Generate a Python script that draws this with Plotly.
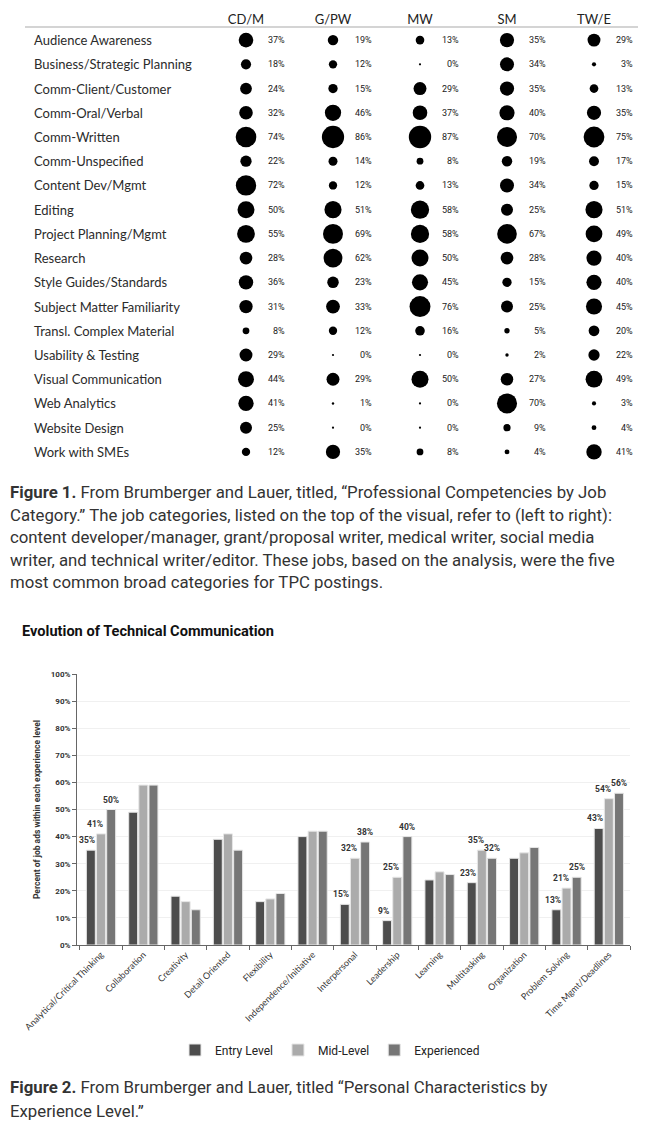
import math
import plotly.graph_objects as go

# ---------------- Figure 1 data (dot table) ----------------
competencies = [
    "Audience Awareness", "Business/Strategic Planning", "Comm-Client/Customer",
    "Comm-Oral/Verbal", "Comm-Written", "Comm-Unspecified", "Content Dev/Mgmt",
    "Editing", "Project Planning/Mgmt", "Research", "Style Guides/Standards",
    "Subject Matter Familiarity", "Transl. Complex Material", "Usability & Testing",
    "Visual Communication", "Web Analytics", "Website Design", "Work with SMEs",
]
job_categories = ["CD/M", "G/PW", "MW", "SM", "TW/E"]
cdm = [37, 18, 24, 32, 74, 22, 72, 50, 55, 28, 36, 31, 8, 29, 44, 41, 25, 12]
gpw = [19, 12, 15, 46, 86, 14, 12, 51, 69, 62, 23, 33, 12, 0, 29, 1, 0, 35]
mw = [13, 0, 29, 37, 87, 8, 13, 58, 58, 50, 45, 76, 16, 0, 50, 0, 0, 8]
sm = [35, 34, 35, 40, 70, 19, 34, 25, 67, 28, 15, 25, 5, 2, 27, 70, 9, 4]
twe = [29, 3, 13, 35, 75, 17, 15, 51, 49, 40, 40, 45, 20, 22, 49, 3, 4, 41]
table_series = [cdm, gpw, mw, sm, twe]

# ---------------- Figure 2 data (grouped bars) ----------------
characteristics = [
    "Analytical/Critical Thinking", "Collaboration", "Creativity", "Detail Oriented",
    "Flexibility", "Independence/Initiative", "Interpersonal", "Leadership",
    "Learning", "Multitasking", "Organization", "Problem Solving", "Time Mgmt/Deadlines",
]
entry_level = [35, 49, 18, 39, 16, 40, 15, 9, 24, 23, 32, 13, 43]
mid_level = [41, 59, 16, 41, 17, 42, 32, 25, 27, 35, 34, 21, 54]
experienced = [50, 59, 13, 35, 19, 42, 38, 40, 26, 32, 36, 25, 56]
entry_labeled = [1, 0, 0, 0, 0, 0, 1, 1, 0, 1, 0, 1, 1]
mid_labeled = [1, 0, 0, 0, 0, 0, 1, 1, 0, 1, 0, 1, 1]
exp_labeled = [1, 0, 0, 0, 0, 0, 1, 1, 0, 1, 0, 1, 1]
y_ticks = list(range(0, 101, 10))

# page body adds an 8px margin; the figure fills the remaining window
PAGE_MARGIN = 8
W, H = 654 - PAGE_MARGIN, 1128 - PAGE_MARGIN
NARROW = "Roboto, sans-serif"


def px_x(p):
    return (p - PAGE_MARGIN) / W


def px_y(p):
    return 1 - (p - PAGE_MARGIN) / H


fig = go.Figure()

# dots
for col, vals in zip(job_categories, table_series):
    fig.add_trace(go.Scatter(
        x=[col] * len(competencies), y=competencies, mode="markers",
        marker=dict(size=[max(2.2, 2.4 * math.sqrt(v)) for v in vals], color="#000000",
                    opacity=1, line=dict(width=0)),
        showlegend=False, hoverinfo="skip", xaxis="x", yaxis="y",
    ))

annotations = []
for row in competencies:
    annotations.append(dict(
        text=row, xref="paper", x=px_x(32), yref="y", y=row, xanchor="left",
        yanchor="middle", showarrow=False,
        font=dict(family="Lato, sans-serif", size=13, color="#2b2b2b"),
    ))
for col, vals in zip(job_categories, table_series):
    for row, v in zip(competencies, vals):
        annotations.append(dict(
            text=f"{v}%", xref="x", x=col, yref="y", y=row, xanchor="right",
            yanchor="middle", xshift=41, showarrow=False,
            font=dict(family=NARROW, size=9, color="#1a1a1a"),
        ))

# bars
bar_colors = ["#4d4d4d", "#ababab", "#767676"]
label_shift = [-14, -6, 10]
for k, (name, vals, lab, colr) in enumerate([
    ("Entry Level", entry_level, entry_labeled, bar_colors[0]),
    ("Mid-Level", mid_level, mid_labeled, bar_colors[1]),
    ("Experienced", experienced, exp_labeled, bar_colors[2]),
]):
    fig.add_trace(go.Bar(
        x=characteristics, y=vals, name=name,
        marker=dict(color=colr, line=dict(color="#e6e6e6", width=1)),
        xaxis="x2", yaxis="y2", hoverinfo="skip",
    ))
    for c, v, l in zip(characteristics, vals, lab):
        if l:
            annotations.append(dict(
                text=f"<b>{v}%</b>", xref="x2", x=c, yref="y2", y=v, xanchor="center",
                yanchor="bottom", xshift=label_shift[k], yshift=3, showarrow=False,
                font=dict(family=NARROW, size=8.5, color="#333333"),
            ))

# captions
cap_font = dict(family="Roboto, sans-serif", size=16.8, color="#333333")
fig1_lines = [
    "<b>Figure 1.</b> From Brumberger and Lauer, titled, \u201cProfessional Competencies by Job",
    "Category.\u201d The job categories, listed on the top of the visual, refer to (left to right):",
    "content developer/manager, grant/proposal writer, medical writer, social media",
    "writer, and technical writer/editor. These jobs, based on the analysis, were the five",
    "most common broad categories for TPC postings.",
]
for i, t in enumerate(fig1_lines):
    annotations.append(dict(text=t, xref="paper", yref="paper", x=px_x(8), y=px_y(492 + 22.5 * i),
                            xanchor="left", yanchor="middle", showarrow=False, font=cap_font))
fig2_lines = [
    "<b>Figure 2.</b> From Brumberger and Lauer, titled \u201cPersonal Characteristics by",
    "Experience Level.\u201d",
]
for i, t in enumerate(fig2_lines):
    annotations.append(dict(text=t, xref="paper", yref="paper", x=px_x(8), y=px_y(1087 + 24 * i),
                            xanchor="left", yanchor="middle", showarrow=False, font=cap_font))

annotations.append(dict(
    text="<b>Evolution of Technical Communication</b>", xref="paper", yref="paper",
    x=px_x(20), y=px_y(631), xanchor="left", yanchor="middle", showarrow=False,
    font=dict(family=NARROW, size=14.6, color="#111111"),
))

fig.update_layout(
    width=W, height=H, margin=dict(l=0, r=0, t=0, b=0, autoexpand=False),
    paper_bgcolor="white", plot_bgcolor="white",
    barmode="group", bargap=0.28, bargroupgap=0.12,
    annotations=annotations,
    shapes=[dict(type="line", xref="paper", yref="paper", x0=px_x(25), x1=px_x(638),
                 y0=px_y(27), y1=px_y(27), line=dict(color="#d4d4d4", width=2))],
    xaxis=dict(domain=[px_x(202.5), px_x(637.5)], anchor="y", type="category",
               categoryorder="array", categoryarray=job_categories, range=[-0.5, 4.5],
               side="top", showgrid=False, zeroline=False, showline=False, ticks="",
               automargin=False,
               tickfont=dict(family="Lato, sans-serif", size=13, color="#222222")),
    yaxis=dict(domain=[px_y(464), px_y(28)], anchor="x", type="category",
               categoryorder="array", categoryarray=competencies,
               range=[len(competencies) - 0.5, -0.5], showticklabels=False,
               showgrid=False, zeroline=False, showline=False, ticks="", automargin=False),
    xaxis2=dict(domain=[px_x(77), px_x(630)], anchor="y2", type="category",
                tickangle=-45, tickson="boundaries", ticks="outside", ticklen=4,
                tickcolor="#666666", showline=True, linecolor="#666666", linewidth=1,
                showgrid=False, automargin=False,
                tickfont=dict(family="Lato, sans-serif", size=9, color="#333333")),
    yaxis2=dict(domain=[px_y(945), px_y(674)], anchor="x2", range=[0, 100],
                tickvals=y_ticks, ticktext=[f"<b>{t}%</b>" for t in y_ticks],
                ticks="outside", ticklen=4, tickcolor="#666666",
                showline=True, linecolor="#666666", linewidth=1,
                showgrid=True, gridcolor="#f0f0f0", zeroline=False, automargin=False,
                tickfont=dict(family=NARROW, size=8, color="#333333"),
                title=dict(text="<b>Percent of job ads within each experience level</b>",
                           font=dict(family=NARROW, size=8.5, color="#333333"), standoff=8)),
    legend=dict(orientation="h", x=px_x(330), xanchor="center", y=px_y(1050), yanchor="middle",
                font=dict(family=NARROW, size=12, color="#222222"),
                itemwidth=30, traceorder="normal"),
)

fig.write_html("out.html")
